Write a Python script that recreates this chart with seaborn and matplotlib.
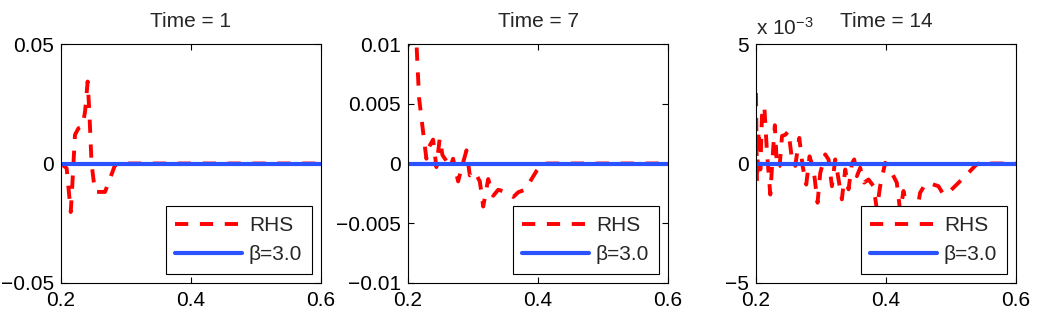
import matplotlib

matplotlib.use("Agg")
import matplotlib.pyplot as plt
import seaborn as sns

# Time = 1
rhs_x_t1 = [0.2, 0.2087, 0.215, 0.2174, 0.2215, 0.2267, 0.233, 0.237, 0.241, 0.2436,
            0.247, 0.2523, 0.2677, 0.2754, 0.283, 0.291, 0.6]
rhs_y_t1 = [0.0, -0.002, -0.0203, -0.009, 0.012, 0.0147, 0.0154, 0.0217, 0.0343, 0.0217,
            0.0, -0.0119, -0.0119, -0.0063, -0.0007, 0.0, 0.0]

# Time = 7
rhs_x_t7 = [0.2, 0.206, 0.2129, 0.217, 0.2231, 0.2283, 0.2324, 0.2386, 0.2437, 0.2488,
            0.253, 0.258, 0.2643, 0.2694, 0.2771, 0.2823, 0.29, 0.2951, 0.3028, 0.3105,
            0.3157, 0.3234, 0.3311, 0.3388, 0.3517, 0.362, 0.3697, 0.38, 0.3902, 0.398,
            0.4082, 0.6]
rhs_y_t7 = [0.0098, 0.0118, 0.0102, 0.0055, 0.0027, 0.0004, 0.0014, 0.002, -0.0003, 0.0021,
            0.0007, 0.0003, -0.0004, 0.0004, -0.0015, -0.0004, 0.0011, -0.001, -0.0007, -0.0015,
            -0.0036, -0.0013, -0.0027, -0.0022, -0.0024, -0.0028, -0.0024, -0.0022, -0.0013, -0.0006,
            0.0, 0.0]

# Time = 14 (values in units of 1e-3)
rhs_x_t14 = [0.2, 0.2015, 0.2041, 0.2067, 0.2092, 0.2128, 0.2169, 0.222, 0.2261, 0.229,
             0.2323, 0.2364, 0.24, 0.245, 0.25, 0.2553, 0.2604, 0.2666, 0.2717, 0.2773,
             0.2824, 0.2886, 0.2947, 0.2988, 0.3065, 0.3116, 0.3168, 0.3219, 0.327, 0.3321,
             0.3373, 0.3424, 0.3475, 0.3511, 0.3552, 0.3603, 0.3664, 0.3731, 0.3808, 0.3859,
             0.391, 0.3987, 0.4038, 0.409, 0.4166, 0.4218, 0.4269, 0.432, 0.4397, 0.4474,
             0.4525, 0.4586, 0.4653, 0.473, 0.4807, 0.4884, 0.4986, 0.5088, 0.519, 0.5293,
             0.537, 0.542, 0.6]
rhs_y_t14 = [2.95, -0.8, 1.4, -0.25, 2.0, 2.4, 0.45, -1.3, 0.5, 1.6,
             -0.18, -0.1, 1.15, 1.2, 1.35, 0.17, -0.1, 1.07, -0.1, -0.88,
             0.3, -0.25, -1.64, -0.4, 0.38, 0.17, -0.95, 0.17, -0.67, -1.5,
             -0.25, -1.08, 0.0, 0.17, -0.53, -0.18, -0.8, -0.67, -0.95, -1.92,
             -0.95, 0.03, -0.1, -0.4, -0.8, -2.0, -1.15, -1.85, -1.92, -2.06,
             -1.22, -0.95, -0.8, -0.88, -0.95, -1.3, -1.15, -0.88, -0.6, -0.32,
             -0.1, 0.0, 0.0]

beta_x = [0.2, 0.6]
beta_y = [0.0, 0.0]

titles = ["Time = 1", "Time = 7", "Time = 14"]
ylims = [(-0.05, 0.05), (-0.01, 0.01), (-0.005, 0.005)]
yticks = [[-0.05, 0, 0.05], [-0.01, -0.005, 0, 0.005, 0.01], [-0.005, 0, 0.005]]
ytick_labels = [["\u22120.05", "0", "0.05"],
                ["\u22120.01", "\u22120.005", "0", "0.005", "0.01"],
                ["\u22125", "0", "5"]]
xticks = [0.2, 0.4, 0.6]
xtick_labels = ["0.2", "0.4", "0.6"]

sns.set_theme(style="ticks")
plt.rcParams["font.family"] = ["Liberation Sans", "DejaVu Sans"]
plt.rcParams["mathtext.default"] = "regular"

FS = 15
fig = plt.figure(figsize=(10.38, 3.12), dpi=100)
lefts = [61, 408, 756]
series = [(rhs_x_t1, rhs_y_t1), (rhs_x_t7, rhs_y_t7),
          (rhs_x_t14, [v * 1e-3 for v in rhs_y_t14])]

for i, (xs, ys) in enumerate(series):
    ax = fig.add_axes([lefts[i] / 1038, 29 / 312, 260 / 1038, 239 / 312])
    sns.lineplot(x=xs, y=ys, ax=ax, color="#ff0000", lw=2.8,
                 linestyle=(0, (3.4, 3.0)), label="RHS", sort=False)
    sns.lineplot(x=beta_x, y=beta_y, ax=ax, color="#2a52ff", lw=3.0,
                 label="\u03b2=3.0")
    ax.set_xlim(0.2, 0.6)
    ax.set_ylim(*ylims[i])
    ax.set_xticks(xticks)
    ax.set_xticklabels(xtick_labels)
    ax.set_yticks(yticks[i])
    ax.set_yticklabels(ytick_labels[i])
    ax.tick_params(direction="in", top=True, right=True, length=4, width=0.8,
                   labelsize=FS, colors="black")
    ax.tick_params(axis="x", pad=6)
    ax.tick_params(axis="y", pad=5)
    for sp in ax.spines.values():
        sp.set_visible(True)
        sp.set_linewidth(0.8)
        sp.set_color("black")
    ax.set_title(titles[i], fontsize=FS, pad=12)
    leg = ax.legend(loc="lower right", fontsize=FS, frameon=True, fancybox=False,
                    framealpha=1, edgecolor="black", handlelength=3.2,
                    borderaxespad=0.45, borderpad=0.45, labelspacing=0.5,
                    handletextpad=0.35)
    leg.get_frame().set_linewidth(0.8)
    if i == 2:
        ax.text(0.0, 1.02, r"x 10$^{\mathregular{-3}}$", transform=ax.transAxes,
                fontsize=FS, ha="left", va="bottom")

fig.savefig("out.png", dpi=100, facecolor="white")
